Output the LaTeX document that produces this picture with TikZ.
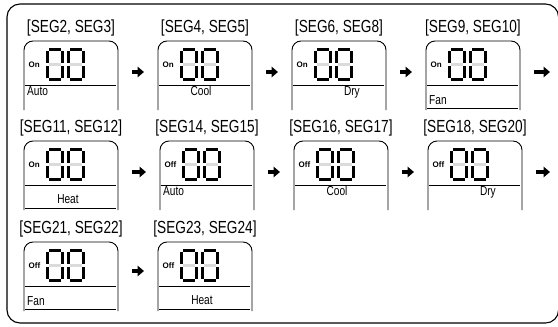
\documentclass[tikz,border=0pt]{standalone}
\usepackage{fontspec}
\setmainfont{Liberation Sans}
\newfontfamily\segfont{Liberation Sans}[FakeStretch=0.78]
\usetikzlibrary{arrows.meta,positioning,calc}

\tikzset{
  boxline/.style={line width=0.9pt},
  panelbox/.style={rectangle, anchor=north west, minimum width=94pt, minimum height=69pt, inner sep=0pt, outer sep=0pt},
  seglabel/.style={font=\segfont\fontsize{17.5}{18}\selectfont, anchor=base, inner sep=0pt},
  statelabel/.style={font=\bfseries\fontsize{8}{9}\selectfont, anchor=west, inner sep=0pt},
  modelabel/.style={font=\segfont\fontsize{13}{14}\selectfont, inner sep=0pt},
  seg/.style={line width=2.9pt},
  segoff/.style={line width=2.6pt, color=black!14},
  steparrow/.style={line width=4.5pt, -{Triangle[length=6.5pt,width=10.5pt]}, shorten <=14pt, shorten >=14pt},
}

% one seven segment digit showing 0
\newcommand{\sevenseg}[1]{%
  \begin{scope}[shift={(#1)}]
    \draw[segoff] (3.2,16.5) -- (14.8,16.5);
    \draw[seg] (3.2,1.45) -- (14.8,1.45);
    \draw[seg] (1.45,3.2) -- (1.45,15.2);
    \draw[seg] (16.55,3.2) -- (16.55,15.2);
    \draw[seg] (1.45,17.8) -- (1.45,29.8);
    \draw[seg] (16.55,17.8) -- (16.55,29.8);
    \draw[seg] (3.2,31.55) -- (14.8,31.55);
  \end{scope}}

% display panel: name, label, On/Off
\newcommand{\panel}[3]{%
  \draw[boxline, rounded corners=9pt] (#1.south west) -- (#1.north west) -- (#1.north east) -- (#1.south east);
  \draw[boxline] ([xshift=1pt,yshift=-44pt]#1.north west) -- ([xshift=-2pt,yshift=-44pt]#1.north east);
  \node[seglabel] (#1-lbl) at ([yshift=9pt]#1.north) {#2};
  \node[statelabel] (#1-st) at ([xshift=4.5pt,yshift=-24pt]#1.north west) {#3};
  \coordinate (#1-da) at ([xshift=22pt,yshift=-7pt]#1.north west);
  \coordinate (#1-db) at ([xshift=43pt,yshift=-7pt]#1.north west);
  \sevenseg{#1-da}\sevenseg{#1-db}}

\begin{document}
\begin{tikzpicture}[x=1pt,y=-1pt]
  \useasboundingbox (0,0) rectangle (558,327);
  % outer frame, right side falls off the page
  \draw[line width=1.1pt, rounded corners=13pt] (7,4) rectangle (558.6,323);

  % first row
  \node[panelbox] (p1) at (24,41) {};
  \node[panelbox] (p2) at (158,41) {};
  \node[panelbox] (p3) at (292,41) {};
  \node[panelbox] (p4) at (426,41) {};
  % second row
  \node[panelbox] (p5) at (24,141) {};
  \node[panelbox] (p6) at (160,141) {};
  \node[panelbox] (p7) at (294,141) {};
  \node[panelbox] (p8) at (428,141) {};
  % third row
  \node[panelbox] (p9) at (24,242) {};
  \node[panelbox] (p10) at (158,242) {};

  \panel{p1}{[SEG2, SEG3]}{On}
  \panel{p2}{[SEG4, SEG5]}{On}
  \panel{p3}{[SEG6, SEG8]}{On}
  \panel{p4}{[SEG9, SEG10]}{On}
  \panel{p5}{[SEG11, SEG12]}{On}
  \panel{p6}{[SEG14, SEG15]}{Off}
  \panel{p7}{[SEG16, SEG17]}{Off}
  \panel{p8}{[SEG18, SEG20]}{Off}
  \panel{p9}{[SEG21, SEG22]}{Off}
  \panel{p10}{[SEG23, SEG24]}{Off}

  % mode texts
  \node[modelabel, anchor=base west] (p1-mode) at ([xshift=3pt,yshift=-54pt]p1.north west) {Auto};
  \node[modelabel, anchor=base] (p2-mode) at ([xshift=-4pt,yshift=-54pt]p2.north) {Cool};
  \node[modelabel, anchor=base east] (p3-mode) at ([xshift=-26pt,yshift=-54pt]p3.north east) {Dry};
  \node[modelabel, anchor=base west] (p4-mode) at ([xshift=3pt,yshift=-63pt]p4.north west) {Fan};
  \node[modelabel, anchor=base] (p5-mode) at ([xshift=-3pt,yshift=-62pt]p5.north) {Heat};
  \node[modelabel, anchor=base west] (p6-mode) at ([xshift=3pt,yshift=-54pt]p6.north west) {Auto};
  \node[modelabel, anchor=base] (p7-mode) at ([xshift=-4pt,yshift=-54pt]p7.north) {Cool};
  \node[modelabel, anchor=base east] (p8-mode) at ([xshift=-26pt,yshift=-54pt]p8.north east) {Dry};
  \node[modelabel, anchor=base west] (p9-mode) at ([xshift=3pt,yshift=-63pt]p9.north west) {Fan};
  \node[modelabel, anchor=base] (p10-mode) at ([xshift=-3pt,yshift=-62pt]p10.north) {Heat};
  % bottom lines under the lower texts
  \foreach \p in {p4,p5,p9,p10}
    \draw[boxline] ([xshift=1pt,yshift=-67pt]\p.north west) -- ([xshift=-2pt,yshift=-67pt]\p.north east);

  % arrows
  \coordinate (e1) at ([xshift=44pt,yshift=-31pt]p4.north east);
  \coordinate (e2) at ([xshift=42pt,yshift=-31pt]p8.north east);
  \draw[steparrow] ([yshift=-31pt]p1.north east) -- ([yshift=-31pt]p2.north west);
  \draw[steparrow] ([yshift=-31pt]p2.north east) -- ([yshift=-31pt]p3.north west);
  \draw[steparrow] ([yshift=-31pt]p3.north east) -- ([yshift=-31pt]p4.north west);
  \draw[steparrow] ([yshift=-31pt]p4.north east) -- (e1);
  \draw[steparrow] ([yshift=-31pt]p5.north east) -- ([yshift=-31pt]p6.north west);
  \draw[steparrow] ([yshift=-31pt]p6.north east) -- ([yshift=-31pt]p7.north west);
  \draw[steparrow] ([yshift=-31pt]p7.north east) -- ([yshift=-31pt]p8.north west);
  \draw[steparrow] ([yshift=-31pt]p8.north east) -- (e2);
  \draw[steparrow] ([yshift=-29pt]p9.north east) -- ([yshift=-29pt]p10.north west);
\end{tikzpicture}
\end{document}
